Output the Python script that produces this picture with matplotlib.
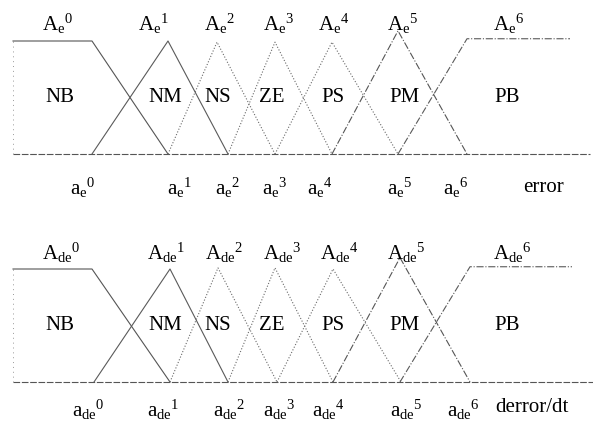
import matplotlib
matplotlib.use("Agg")
import matplotlib.pyplot as plt

plt.rcParams['font.family'] = ['Liberation Serif', 'DejaVu Serif']
plt.rcParams['mathtext.fontset'] = 'custom'
plt.rcParams['mathtext.rm'] = 'Liberation Serif'
plt.rcParams['mathtext.it'] = 'Liberation Serif'

# membership functions, breakpoints (universe units)
sets = ['NB', 'NM', 'NS', 'ZE', 'PS', 'PM', 'PB']

e_x = [[13, 13, 92, 168], [92, 168, 228], [168, 217, 275], [228, 275, 332],
       [275, 332, 398], [332, 398, 467], [398, 467, 570]]
e_mu = [[0, 1, 1, 0], [0, 1, 0], [0, 0.99, 0], [0, 0.99, 0],
        [0, 0.99, 0], [0, 1.09, 0], [0, 1.02, 1.02]]

de_x = [[13, 13, 92, 170], [94, 170, 228], [170, 218, 277], [228, 275, 333],
        [277, 333, 401], [333, 400, 470], [400, 470, 572]]
de_mu = [[0, 1, 1, 0], [0, 1, 0], [0, 1.01, 0], [0, 1.01, 0],
         [0, 1.0, 0], [0, 1.10, 0], [0, 1.02, 1.02]]

# layout (label anchors)
set_lbl_x = [60, 165, 218, 272, 333, 405, 507]
e_top_x = [42, 138, 204, 263, 318, 387, 493]
e_bot_x = [70, 167, 215, 262, 307, 387, 443]
de_top_x = [42, 147, 205, 263, 320, 387, 493]
de_bot_x = [72, 147, 213, 263, 312, 390, 447]

styles = [('-', '#555555'), ('-', '#5a5a5a'), (':', '#6a6a6a'), (':', '#6a6a6a'),
          (':', '#6a6a6a'), ('-.', '#555555'), ('-.', '#5a5a5a')]

W, H = 593, 423
fig = plt.figure(figsize=(W / 100, H / 100), dpi=100)


def panel(top_px, bot_px, base_px, unit_px, xs, mus, sub, top_x, bot_x,
          top_px_lbl, bot_px_lbl, var, var_x, var_px, base_end):
    ax = fig.add_axes([0, 1 - bot_px / H, 1, (bot_px - top_px) / H])
    ax.set_xlim(0, W)
    ax.set_ylim((base_px - bot_px) / unit_px, (base_px - top_px) / unit_px)
    ax.axis('off')
    ax.plot([13, base_end], [0, 0], color='#555555', lw=0.8, ls=(0, (6, 1.5)))
    for i, (x, mu, (ls, c)) in enumerate(zip(xs, mus, styles)):
        if i == 0:
            # left edge of NB is only a faint dotted stroke
            ax.plot(x[:2], mu[:2], color='#999999', lw=0.7, ls=(0, (1, 4)))
            ax.plot(x[1:], mu[1:], color=c, lw=0.8, ls=ls)
        else:
            ax.plot(x, mu, color=c, lw=0.8, ls=ls)
    y_top = (base_px - top_px_lbl) / unit_px
    y_bot = (base_px - bot_px_lbl) / unit_px
    for i, name in enumerate(sets):
        ax.text(set_lbl_x[i], 0.5, name, fontsize=15, ha='center', va='center')
        ax.text(top_x[i], y_top, r'$\mathrm{A_{%s}}^{%d}$' % (sub, i),
                fontsize=15, ha='left', va='center')
        ax.text(bot_x[i], y_bot, r'$\mathrm{a_{%s}}^{%d}$' % (sub, i),
                fontsize=15, ha='left', va='center')
    ax.text(var_x, (base_px - var_px) / unit_px, var, fontsize=15,
            ha='left', va='center')
    return ax


panel(0, 200, 154, 113, e_x, e_mu, 'e', e_top_x, e_bot_x, 24, 188,
      'error', 523, 188, 590)
panel(200, 423, 382, 113, de_x, de_mu, 'de', de_top_x, de_bot_x, 253, 410,
      'derror/dt', 495, 407, 593)

fig.savefig('out.png', dpi=100)
